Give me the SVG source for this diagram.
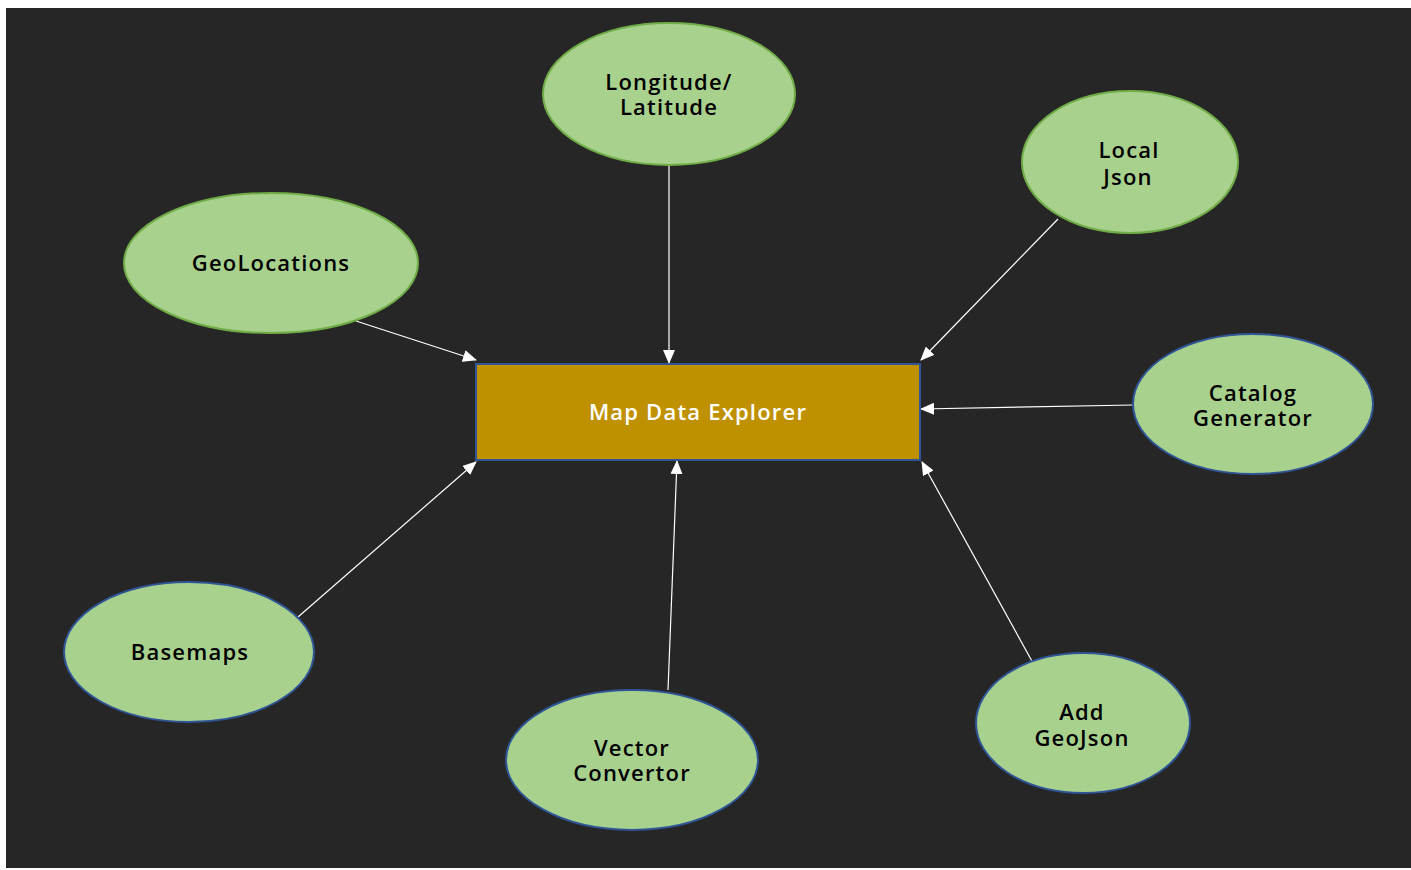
<svg xmlns="http://www.w3.org/2000/svg" width="1411" height="870" viewBox="0 0 1411 870">
<defs>
<marker id="ah" markerWidth="14" markerHeight="12" refX="13" refY="6" orient="auto" markerUnits="userSpaceOnUse">
<path d="M0,0 L14,6 L0,12 Z" fill="#ffffff"/>
</marker>
<style>
.nodeG{fill:#a9d18e;stroke:#70ad47;stroke-width:2}
.nodeB{fill:#a9d18e;stroke:#2f5597;stroke-width:2}
.lbl{font-family:"Open Sans","Noto Sans","Liberation Sans",sans-serif;font-size:22px;font-weight:600;letter-spacing:1.2px;fill:#000000;text-anchor:middle}
.main{font-family:"Open Sans","Noto Sans","Liberation Sans",sans-serif;font-size:22px;font-weight:600;letter-spacing:1.2px;fill:#ffffff;text-anchor:middle}
.conn{stroke:#ffffff;stroke-width:1.2;fill:none;marker-end:url(#ah)}
</style>
</defs>
<rect x="0" y="0" width="1411" height="870" fill="#ffffff"/>
<rect x="6" y="8" width="1405" height="860" fill="#262626"/>
<g id="connectors">
<line class="conn" x1="669" y1="165" x2="669" y2="363"/>
<line class="conn" x1="1058" y1="219" x2="921" y2="360"/>
<line class="conn" x1="356" y1="321" x2="476" y2="360"/>
<line class="conn" x1="1133" y1="405" x2="921" y2="409"/>
<line class="conn" x1="298" y1="617" x2="476" y2="462"/>
<line class="conn" x1="668" y1="690" x2="677" y2="461"/>
<line class="conn" x1="1033" y1="663" x2="922" y2="462"/>
</g>
<g id="map-data-explorer">
<rect x="476" y="364" width="444" height="96" fill="#bf9000" stroke="#2f5597" stroke-width="2"/>
<text class="main" x="698" y="420">Map Data Explorer</text>
</g>
<g id="longitude-latitude">
<ellipse class="nodeG" cx="669" cy="94" rx="126" ry="71"/>
<text class="lbl" x="669" y="90">Longitude/</text>
<text class="lbl" x="669" y="115">Latitude</text>
</g>
<g id="local-json">
<ellipse class="nodeG" cx="1130" cy="162" rx="108" ry="71"/>
<text class="lbl" x="1129" y="158">Local</text>
<text class="lbl" x="1128" y="185">Json</text>
</g>
<g id="geolocations">
<ellipse class="nodeG" cx="271" cy="263" rx="147" ry="70"/>
<text class="lbl" x="271" y="271">GeoLocations</text>
</g>
<g id="catalog-generator">
<ellipse class="nodeB" cx="1253" cy="404" rx="120" ry="70"/>
<text class="lbl" x="1253" y="401">Catalog</text>
<text class="lbl" x="1253" y="426">Generator</text>
</g>
<g id="basemaps">
<ellipse class="nodeB" cx="189" cy="652" rx="125" ry="70"/>
<text class="lbl" x="190" y="660">Basemaps</text>
</g>
<g id="vector-convertor">
<ellipse class="nodeB" cx="632" cy="760" rx="126" ry="70"/>
<text class="lbl" x="632" y="756">Vector</text>
<text class="lbl" x="632" y="781">Convertor</text>
</g>
<g id="add-geojson">
<ellipse class="nodeB" cx="1083" cy="723" rx="107" ry="70"/>
<text class="lbl" x="1082" y="720">Add</text>
<text class="lbl" x="1082" y="746">GeoJson</text>
</g>
</svg>
